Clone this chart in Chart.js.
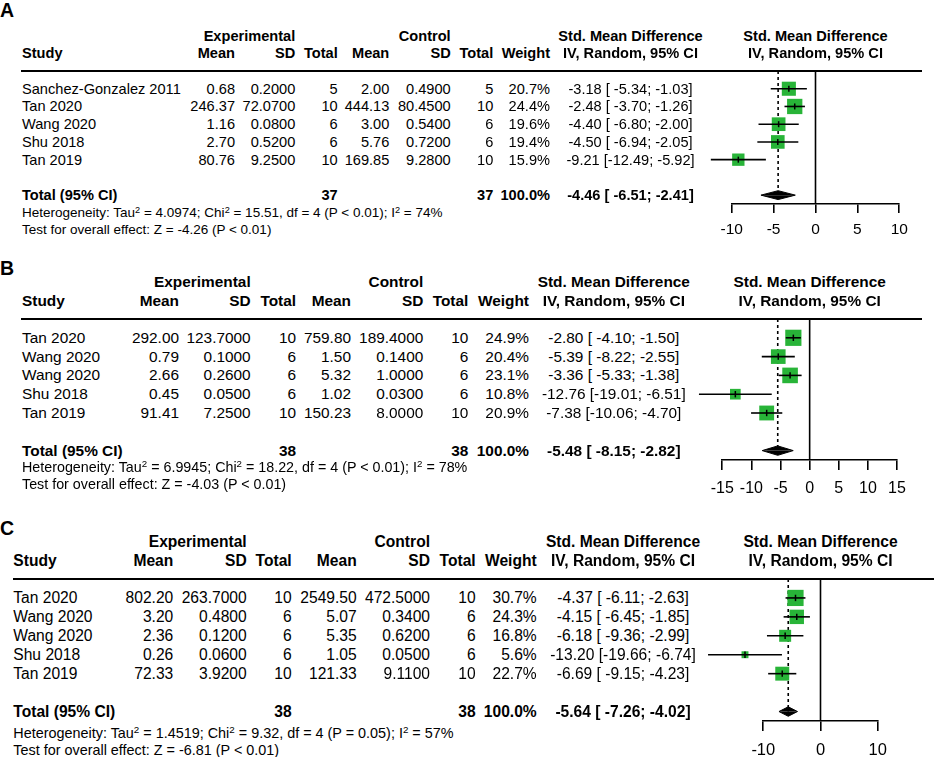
<!DOCTYPE html>
<html><head><meta charset="utf-8">
<script src="https://cdn.jsdelivr.net/npm/chart.js@4.4.1/dist/chart.umd.min.js"></script>
<style>
html,body{margin:0;padding:0;background:#fff;}
body{width:934px;height:757px;position:relative;overflow:hidden;font-family:"Liberation Sans",Arial,Helvetica,sans-serif;color:#000;}
.t{position:absolute;white-space:pre;line-height:1;}
canvas{position:absolute;}
.rule{position:absolute;height:2px;background:#000;}
sup{font-size:0.68em;line-height:0;vertical-align:0.5em;}
</style></head><body>
<script>
// ---------------- DATA ----------------
// Panel A
const A_study    = ["Sanchez-Gonzalez 2011","Tan 2020","Wang 2020","Shu 2018","Tan 2019"];
const A_expMean  = [0.68, 246.37, 1.16, 2.70, 80.76];
const A_expSD    = [0.2000, 72.0700, 0.0800, 0.5200, 9.2500];
const A_expN     = [5, 10, 6, 6, 10];
const A_ctrlMean = [2.00, 444.13, 3.00, 5.76, 169.85];
const A_ctrlSD   = [0.4900, 80.4500, 0.5400, 0.7200, 9.2800];
const A_ctrlN    = [5, 10, 6, 6, 10];
const A_weight   = [20.7, 24.4, 19.6, 19.4, 15.9];
const A_smd      = [-3.18, -2.48, -4.40, -4.50, -9.21];
const A_lo       = [-5.34, -3.70, -6.80, -6.94, -12.49];
const A_hi       = [-1.03, -1.26, -2.00, -2.05, -5.92];
const A_pooled   = [-4.46, -6.51, -2.41];
const A_totalN   = [37, 37];
const A_het      = [4.0974, 15.51, 4, 74];
const A_hetP     = "< 0.01";
const A_z        = [-4.26];
const A_zP       = "< 0.01";
const A_ticks    = [-10, -5, 0, 5, 10];

// Panel B
const B_study    = ["Tan 2020","Wang 2020","Wang 2020","Shu 2018","Tan 2019"];
const B_expMean  = [292.00, 0.79, 2.66, 0.45, 91.41];
const B_expSD    = [123.7000, 0.1000, 0.2600, 0.0500, 7.2500];
const B_expN     = [10, 6, 6, 6, 10];
const B_ctrlMean = [759.80, 1.50, 5.32, 1.02, 150.23];
const B_ctrlSD   = [189.4000, 0.1400, 1.0000, 0.0300, 8.0000];
const B_ctrlN    = [10, 6, 6, 6, 10];
const B_weight   = [24.9, 20.4, 23.1, 10.8, 20.9];
const B_smd      = [-2.80, -5.39, -3.36, -12.76, -7.38];
const B_lo       = [-4.10, -8.22, -5.33, -19.01, -10.06];
const B_hi       = [-1.50, -2.55, -1.38, -6.51, -4.70];
const B_pooled   = [-5.48, -8.15, -2.82];
const B_totalN   = [38, 38];
const B_het      = [6.9945, 18.22, 4, 78];
const B_hetP     = "< 0.01";
const B_z        = [-4.03];
const B_zP       = "< 0.01";
const B_ticks    = [-15, -10, -5, 0, 5, 10, 15];

// Panel C
const C_study    = ["Tan 2020","Wang 2020","Wang 2020","Shu 2018","Tan 2019"];
const C_expMean  = [802.20, 3.20, 2.36, 0.26, 72.33];
const C_expSD    = [263.7000, 0.4800, 0.1200, 0.0600, 3.9200];
const C_expN     = [10, 6, 6, 6, 10];
const C_ctrlMean = [2549.50, 5.07, 5.35, 1.05, 121.33];
const C_ctrlSD   = [472.5000, 0.3400, 0.6200, 0.0500, 9.1100];
const C_ctrlN    = [10, 6, 6, 6, 10];
const C_weight   = [30.7, 24.3, 16.8, 5.6, 22.7];
const C_smd      = [-4.37, -4.15, -6.18, -13.20, -6.69];
const C_lo       = [-6.11, -6.45, -9.36, -19.66, -9.15];
const C_hi       = [-2.63, -1.85, -2.99, -6.74, -4.23];
const C_pooled   = [-5.64, -7.26, -4.02];
const C_totalN   = [38, 38];
const C_het      = [1.4519, 9.32, 4, 57];
const C_hetP     = "= 0.05";
const C_z        = [-6.81];
const C_zP       = "< 0.01";
const C_ticks    = [-10, 0, 10];

// ---------------- LAYOUT ----------------
const FONT = '"Liberation Sans", Arial, Helvetica, sans-serif';
const GREEN = 'rgb(40,180,56)';

const LAY_A = {label:'A', labelY:10.8, font:14.6, hetFont:13.5, tickFont:15.5,
  hdr1:35.5, hdr2:53.3, studyX:22, cols:[235,295.3,337.7,389.3,450.7,493.3,550], smdX:630.5,
  ruleL:20.7, ruleR:921.7, top:71, bottom:204, xl:731.7, xr:899.3,
  hetY:213, testY:230, tickY:230, tickLen:9, sq:15.3, estR:3,
  cL:690, cT:60, cW:244, axH:40};
const LAY_B = {label:'B', labelY:268.5, font:15.4, hetFont:14.3, tickFont:16,
  hdr1:282, hdr2:301.2, studyX:22, cols:[179,250.7,296,351,423.3,468.3,529], smdX:613.8,
  ruleL:20.7, ruleR:921.7, top:319, bottom:460, xl:722.3, xr:897,
  hetY:467.3, testY:484.3, tickY:488.3, tickLen:10, sq:16.2, estR:3.2,
  cL:680, cT:305, cW:254, axH:40};
const LAY_C = {label:'C', labelY:529, font:15.6, hetFont:14.4, tickFont:16.5,
  hdr1:541.7, hdr2:561, studyX:13.3, cols:[173.3,246.7,291.7,356.7,430,475.7,536.7], smdX:623,
  ruleL:12.7, ruleR:934, top:579, bottom:721, xl:763.3, xr:877.7,
  hetY:732.5, testY:749.8, tickY:750, tickLen:10, sq:16.2, estR:3.2,
  cL:690, cT:565, cW:244, axH:36};

// Let marks outside the axis range (long CIs) still be drawn: widen the
// drawing area only while datasets are painted.
const widenArea = {
  id:'widenArea',
  beforeDatasetsDraw(chart){
    chart.$saved = {...chart.chartArea};
    Object.assign(chart.chartArea, {left:0, top:0, right:chart.width, bottom:chart.height});
  },
  afterDatasetsDraw(chart){
    Object.assign(chart.chartArea, chart.$saved);
  }
};

// ---------------- HELPERS ----------------
function T(html, x, y, align, bold, size){
  const d = document.createElement('div');
  d.className = 't';
  d.innerHTML = html;
  const tx = align === 'r' ? '-100%' : (align === 'c' ? '-50%' : '0');
  d.style.left = x + 'px';
  d.style.top = y + 'px';
  d.style.transform = `translate(${tx},-50%)`;
  d.style.fontSize = size + 'px';
  d.style.fontWeight = bold ? 'bold' : 'normal';
  document.body.appendChild(d);
  return d;
}
function ciText(e, l, h){
  return `${e.toFixed(2)} [${l.toFixed(2).padStart(6)}; ${h.toFixed(2).padStart(5)}]`;
}
function esc(s){ return s.replace(/</g,'&lt;'); }

function panel(P, D){
  const rowH = (P.bottom - P.top) / 7.5;
  const rowY = i => P.top + (i + 1) * rowH;
  const F = P.font;

  // ---- chart (forest plot) ----
  const cv = document.createElement('canvas');
  const H = P.bottom - P.cT + P.axH;
  cv.width = P.cW; cv.height = H;
  cv.style.left = P.cL + 'px'; cv.style.top = P.cT + 'px';
  cv.style.width = P.cW + 'px'; cv.style.height = H + 'px';
  document.body.appendChild(cv);

  const maxW = Math.max(...D.weight);
  const est = D.pooled[0], plo = D.pooled[1], phi = D.pooled[2];
  const ciSets = D.smd.map((v, i) => ({
    type:'line', data:[{x:D.lo[i], y:i+1}, {x:D.hi[i], y:i+1}],
    borderColor:'#000', borderWidth:1.6, pointRadius:0, clip:false, order:7
  }));
  const step = D.ticks[1] - D.ticks[0];

  const chart = new Chart(cv, {
    type:'scatter',
    plugins:[widenArea],
    data:{datasets:[
      {type:'line', data:[{x:0,y:0},{x:0,y:7.5}], borderColor:'#000', borderWidth:1.6, pointRadius:0, clip:false, order:10},
      {type:'line', data:[{x:est,y:0},{x:est,y:7}], borderColor:'#000', borderWidth:1.6, borderDash:[3,3], pointRadius:0, clip:false, order:9},
      {data:D.smd.map((v,i)=>({x:v, y:i+1})), pointStyle:'rect',
        pointRadius:D.weight.map(w => P.sq * Math.sqrt(w / maxW) / Math.SQRT2),
        pointBackgroundColor:GREEN, backgroundColor:GREEN, pointBorderWidth:0, borderWidth:0, clip:false, order:8},
      ...ciSets,
      {data:D.smd.map((v,i)=>({x:v, y:i+1})), pointStyle:'line', pointRotation:90, rotation:90,
        pointRadius:P.estR, pointBorderColor:'#000', borderColor:'#000', pointBorderWidth:1.5, borderWidth:1.5, clip:false, order:6},
      {type:'line', data:[{x:plo,y:7},{x:est,y:6.75},{x:phi,y:7}], fill:{value:7},
        backgroundColor:'#000', borderColor:'#000', borderWidth:1, pointRadius:0, clip:false, order:5},
      {type:'line', data:[{x:plo,y:7},{x:est,y:7.25},{x:phi,y:7}], fill:{value:7},
        backgroundColor:'#000', borderColor:'#000', borderWidth:1, pointRadius:0, clip:false, order:4}
    ]},
    options:{
      responsive:false, animation:false, events:[],
      plugins:{legend:{display:false}, tooltip:{enabled:false}},
      layout:{padding:{left:P.xl - P.cL, right:(P.cL + P.cW) - P.xr, top:P.top - P.cT, bottom:0}},
      scales:{
        x:{type:'linear', min:D.ticks[0], max:D.ticks[D.ticks.length-1],
          ticks:{stepSize:step, color:'#000', font:{family:FONT, size:P.tickFont},
            padding:P.tickY - P.bottom - P.tickLen - P.tickFont*0.6, maxRotation:0, autoSkip:false},
          grid:{drawOnChartArea:false, drawTicks:true, tickLength:P.tickLen, color:'#000', tickColor:'#000', lineWidth:1.6, tickWidth:1.6},
          border:{display:true, color:'#000', width:1.6},
          afterFit:s => { s.height = P.axH; }},
        y:{type:'linear', min:0, max:7.5, reverse:true, display:false}
      }
    }
  });
  const zeroX = P.cL + chart.scales.x.getPixelForValue(0);

  // ---- text ----
  T(P.label, 0, P.labelY, 'l', true, 19.5);
  T('Experimental', P.cols[1], P.hdr1, 'r', true, F);
  T('Control', P.cols[4], P.hdr1, 'r', true, F);
  T('Std. Mean Difference', P.smdX, P.hdr1, 'c', true, F);
  T('Std. Mean Difference', zeroX, P.hdr1, 'c', true, F);
  T('Study', P.studyX, P.hdr2, 'l', true, F);
  ['Mean','SD','Total','Mean','SD','Total','Weight'].forEach((h, k) => T(h, P.cols[k], P.hdr2, 'r', true, F));
  T('IV, Random, 95% CI', P.smdX, P.hdr2, 'c', true, F);
  T('IV, Random, 95% CI', zeroX, P.hdr2, 'c', true, F);

  const r = document.createElement('div');
  r.className = 'rule';
  r.style.left = P.ruleL + 'px'; r.style.width = (P.ruleR - P.ruleL) + 'px';
  r.style.top = (P.top - 1) + 'px';
  document.body.appendChild(r);

  D.study.forEach((s, i) => {
    const y = rowY(i);
    T(s, P.studyX, y, 'l', false, F);
    T(D.expMean[i].toFixed(2), P.cols[0], y, 'r', false, F);
    T(D.expSD[i].toFixed(4), P.cols[1], y, 'r', false, F);
    T(String(D.expN[i]), P.cols[2], y, 'r', false, F);
    T(D.ctrlMean[i].toFixed(2), P.cols[3], y, 'r', false, F);
    T(D.ctrlSD[i].toFixed(4), P.cols[4], y, 'r', false, F);
    T(String(D.ctrlN[i]), P.cols[5], y, 'r', false, F);
    T(D.weight[i].toFixed(1) + '%', P.cols[6], y, 'r', false, F);
    T(ciText(D.smd[i], D.lo[i], D.hi[i]), P.smdX, y, 'c', false, F);
  });
  const ty = P.top + 7 * rowH;
  T('Total (95% CI)', P.studyX, ty, 'l', true, F);
  T(String(D.totalN[0]), P.cols[2], ty, 'r', true, F);
  T(String(D.totalN[1]), P.cols[5], ty, 'r', true, F);
  T('100.0%', P.cols[6], ty, 'r', true, F);
  T(ciText(est, plo, phi), P.smdX, ty, 'c', true, F);

  const h = D.het;
  T(`Heterogeneity: Tau<sup>2</sup> = ${h[0].toFixed(4)}; Chi<sup>2</sup> = ${h[1].toFixed(2)}, df = ${h[2]} (P ${esc(D.hetP)}); I<sup>2</sup> = ${h[3]}%`,
    P.studyX, P.hetY, 'l', false, P.hetFont);
  T(`Test for overall effect: Z = ${D.z[0].toFixed(2)} (P ${esc(D.zP)})`, P.studyX, P.testY, 'l', false, P.hetFont);
}

panel(LAY_A, {study:A_study, expMean:A_expMean, expSD:A_expSD, expN:A_expN, ctrlMean:A_ctrlMean, ctrlSD:A_ctrlSD, ctrlN:A_ctrlN,
  weight:A_weight, smd:A_smd, lo:A_lo, hi:A_hi, pooled:A_pooled, totalN:A_totalN, het:A_het, hetP:A_hetP, z:A_z, zP:A_zP, ticks:A_ticks});
panel(LAY_B, {study:B_study, expMean:B_expMean, expSD:B_expSD, expN:B_expN, ctrlMean:B_ctrlMean, ctrlSD:B_ctrlSD, ctrlN:B_ctrlN,
  weight:B_weight, smd:B_smd, lo:B_lo, hi:B_hi, pooled:B_pooled, totalN:B_totalN, het:B_het, hetP:B_hetP, z:B_z, zP:B_zP, ticks:B_ticks});
panel(LAY_C, {study:C_study, expMean:C_expMean, expSD:C_expSD, expN:C_expN, ctrlMean:C_ctrlMean, ctrlSD:C_ctrlSD, ctrlN:C_ctrlN,
  weight:C_weight, smd:C_smd, lo:C_lo, hi:C_hi, pooled:C_pooled, totalN:C_totalN, het:C_het, hetP:C_hetP, z:C_z, zP:C_zP, ticks:C_ticks});
</script>
</body></html>
